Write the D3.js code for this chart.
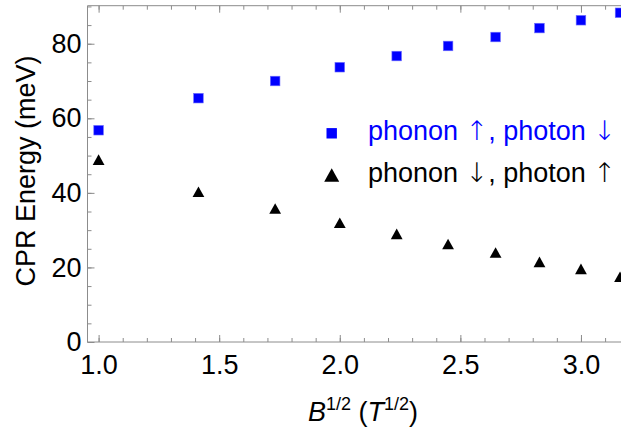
<!DOCTYPE html>
<html>
<head>
<meta charset="utf-8">
<script src="https://cdn.jsdelivr.net/npm/d3@7"></script>
<style>
  body { margin: 0; background: #fff; }
  svg text { font-family: "Liberation Sans", Arial, sans-serif; }
</style>
</head>
<body>
<div id="chart"></div>
<script>
// sqrt(B) values, T^1/2
var xVals = [1.0, 1.414, 1.732, 2.0, 2.236, 2.449, 2.646, 2.828, 3.0, 3.162]
// CPR energies (meV)
var phononUp = [56.8, 65.4, 70.0, 73.7, 76.7, 79.4, 81.8, 84.2, 86.3, 88.3]
var phononDown = [48.9, 40.3, 35.8, 32.0, 29.0, 26.3, 24.0, 21.5, 19.6, 17.5]
var xTicks = [1.0, 1.5, 2.0, 2.5, 3.0]
var yTicks = [0, 20, 40, 60, 80]
// legend labels split around the arrows
var seriesNames = [["phonon ", "\u2191", ", photon ", "\u2193"],
                   ["phonon ", "\u2193", ", photon ", "\u2191"]]

var width = 621, height = 429
var mLeft = 87.5, mRight = 621, mTop = 5.7, mBottom = 342
var frameColor = "#8c8c8c"

var svg = d3.select("#chart").append("svg")
            .attr("width", width)
            .attr("height", height)

var x = d3.scaleLinear().domain([0.954, 3.166]).range([mLeft, mRight])
var y = d3.scaleLinear().domain([0, 90.2]).range([mBottom, mTop])

// minor ticks
var xMinor = d3.range(10, 32).map(function (d) { return d / 10 })
var yMinor = d3.range(0, 91, 5)

var axisG = svg.append("g")

// bottom axis
axisG.append("g")
     .attr("transform", "translate(0," + mBottom + ")")
     .call(d3.axisBottom(x).tickValues(xMinor).tickSize(-4).tickFormat(""))
axisG.append("g")
     .attr("transform", "translate(0," + mBottom + ")")
     .call(d3.axisBottom(x).tickValues(xTicks).tickSize(-7).tickPadding(13)
            .tickFormat(d3.format(".1f")))
// top frame
axisG.append("g")
     .attr("transform", "translate(0," + mTop + ")")
     .call(d3.axisTop(x).tickValues(xMinor).tickSize(-4).tickFormat(""))
axisG.append("g")
     .attr("transform", "translate(0," + mTop + ")")
     .call(d3.axisTop(x).tickValues(xTicks).tickSize(-7).tickFormat(""))
// left axis
axisG.append("g")
     .attr("transform", "translate(" + mLeft + ",0)")
     .call(d3.axisLeft(y).tickValues(yMinor).tickSize(-4).tickFormat(""))
axisG.append("g")
     .attr("transform", "translate(" + mLeft + ",0)")
     .call(d3.axisLeft(y).tickValues(yTicks).tickSize(-7).tickPadding(6))

axisG.selectAll(".domain").remove()
axisG.selectAll("line").attr("stroke", frameColor).attr("stroke-width", 1)
axisG.selectAll("text")
     .attr("fill", "#000")
     .style("font-size", "27px")
     .style("font-family", "'Liberation Sans', Arial, sans-serif")

// frame lines
svg.append("line").attr("x1", mLeft).attr("x2", mRight).attr("y1", mBottom).attr("y2", mBottom)
   .attr("stroke", frameColor)
svg.append("line").attr("x1", mLeft).attr("x2", mRight).attr("y1", mTop).attr("y2", mTop)
   .attr("stroke", frameColor)
svg.append("line").attr("x1", mLeft).attr("x2", mLeft).attr("y1", mTop).attr("y2", mBottom)
   .attr("stroke", frameColor)

// data
var sqData = xVals.map(function (d, i) { return { x: d, y: phononUp[i] } })
var triData = xVals.map(function (d, i) { return { x: d, y: phononDown[i] } })

var sqSize = 9.6
svg.append("g").selectAll("rect")
   .data(sqData)
   .enter().append("rect")
   .attr("x", function (d) { return x(d.x) - sqSize / 2 })
   .attr("y", function (d) { return y(d.y) - sqSize / 2 })
   .attr("width", sqSize)
   .attr("height", sqSize)
   .attr("fill", "#0000ff")
   .attr("stroke", "#6f6fff")
   .attr("stroke-width", 0.6)

// triangle centered on its bounding box
function triPath(w) {
    var h = w * 0.9
    return "M0," + (-h / 2) + "L" + (w / 2) + "," + (h / 2) + "L" + (-w / 2) + "," + (h / 2) + "Z"
}

svg.append("g").selectAll("path")
   .data(triData)
   .enter().append("path")
   .attr("d", triPath(11.8))
   .attr("transform", function (d) { return "translate(" + x(d.x) + "," + y(d.y) + ")" })
   .attr("fill", "#000")

// legend
var legend = svg.append("g")
legend.append("rect")
      .attr("x", 331.7 - 5.2).attr("y", 133.3 - 5.2)
      .attr("width", 10.4).attr("height", 10.4)
      .attr("fill", "#0000ff")
legend.append("path")
      .attr("d", triPath(15))
      .attr("transform", "translate(331.7,175)")
      .attr("fill", "#000")

function legendText(parts, ypos, color) {
    var t = legend.append("text")
                  .attr("x", 368).attr("y", ypos)
                  .attr("fill", color)
                  .style("font-size", "27px")
    parts.forEach(function (p, i) {
        var s = t.append("tspan").text(p)
        if (i % 2 == 1) {
            s.style("font-family", "'DejaVu Sans', sans-serif")
             .style("font-weight", "200")
             .style("font-size", "27px")
        }
    })
}
legendText(seriesNames[0], 139.5, "#0000ff")
legendText(seriesNames[1], 181.5, "#000")

// axis titles
svg.append("text")
   .attr("transform", "translate(35,171) rotate(-90)")
   .attr("text-anchor", "middle")
   .style("font-size", "27px")
   .text("CPR Energy (meV)")

var xt = svg.append("text")
   .attr("x", 363).attr("y", 421)
   .attr("text-anchor", "middle")
   .style("font-size", "27px")
xt.append("tspan").style("font-style", "italic").text("B")
xt.append("tspan").attr("dy", -11).style("font-size", "18px").text("1/2")
xt.append("tspan").attr("dy", 11).text(" (")
xt.append("tspan").style("font-style", "italic").text("T")
xt.append("tspan").attr("dy", -11).style("font-size", "18px").text("1/2")
xt.append("tspan").attr("dy", 11).text(")")
</script>
</body>
</html>
